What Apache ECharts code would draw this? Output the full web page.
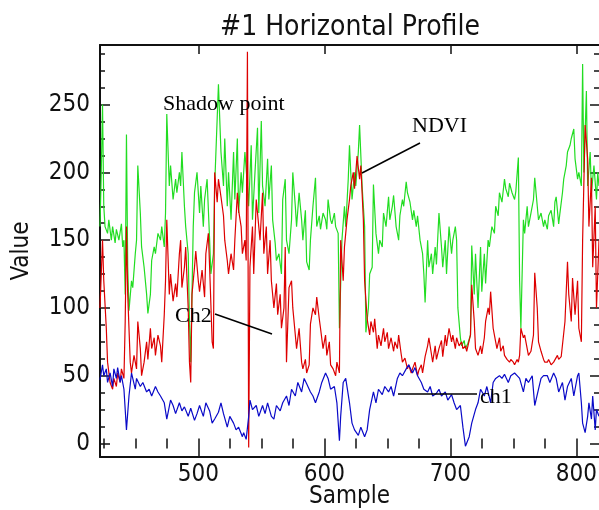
<!DOCTYPE html>
<html lang="en">
<head>
<meta charset="UTF-8">
<title>#1 Horizontal Profile</title>
<script src="https://cdn.jsdelivr.net/npm/echarts@6/dist/echarts.min.js"></script>
<style>
    html, body { margin: 0; padding: 0; background: #fff; }
    #main { width: 599px; height: 510px; }
</style>
</head>
<body>
<div id="main"></div>
<script>
// tick positions / labels
var xMajor = [500, 600, 700, 800];
var xMinor = [425, 450, 475, 500, 525, 550, 575, 600, 625, 650, 675, 700, 725, 750, 775, 800];
var yMajor = [0, 50, 100, 150, 200, 250];
var yMinor = [0, 12.5, 25, 37.5, 50, 62.5, 75, 87.5, 100, 112.5, 125, 137.5, 150, 162.5, 175,
    187.5, 200, 212.5, 225, 237.5, 250, 262.5, 275, 287.5];

// [sample, value]
var ch1 = [[422,47],[424,58],[425,50],[427,55],[428,45],[430,52],[432,42],[433,55],[435,48],[436,56],
    [438,45],[439,50],[441,40],[442,25],[443,10],[445,35],[447,52],[448,48],[450,40],[451,48],[454,42],
    [456,45],[459,38],[461,40],[463,35],[466,42],[468,38],[470,35],[473,30],[475,18],[478,32],[480,28],
    [482,22],[485,30],[487,24],[489,27],[492,20],[494,26],[497,17],[499,22],[501,28],[504,20],[506,30],
    [509,24],[511,15],[513,18],[516,23],[518,30],[520,22],[523,12],[525,20],[528,15],[530,10],[532,12],
    [535,5],[536,8],[538,3],[540,20],[541,32],[543,25],[546,28],[548,20],[551,28],[553,22],[555,30],
    [558,20],[560,18],[562,28],[565,24],[567,30],[570,35],[572,28],[574,40],[577,35],[579,45],[582,38],
    [584,48],[586,44],[589,38],[591,35],[593,30],[596,38],[598,45],[601,52],[603,48],[605,40],[608,42],
    [610,30],[612,2],[613,20],[615,45],[617,48],[620,30],[622,15],[624,10],[627,6],[629,12],[632,5],
    [634,10],[636,25],[639,38],[641,30],[643,40],[646,36],[648,42],[651,38],[653,42],[655,35],[658,48],
    [660,52],[662,50],[665,55],[667,58],[670,52],[672,56],[674,50],[677,45],[679,40],[682,38],[684,42],
    [686,35],[689,37],[691,40],[693,35],[696,38],[698,32],[701,36],[703,30],[705,25],[708,28],[710,12],
    [712,-2],[715,5],[717,15],[720,25],[722,30],[724,40],[727,35],[729,42],[732,30],[734,45],[736,48],
    [739,50],[741,48],[743,51],[746,45],[748,50],[751,52],[753,50],[755,48],[758,38],[760,48],[762,45],
    [765,50],[767,28],[770,40],[772,48],[774,50],[777,50],[779,45],[782,52],[784,48],[786,38],[789,45],
    [791,32],[793,42],[796,48],[798,35],[801,50],[802,52],[804,30],[805,15],[807,8],[809,20],[810,30],
    [812,18],[813,35],[815,10],[816,25],[818,20]];

var ch2 = [[422,100],[424,150],[425,120],[427,85],[428,60],[430,45],[432,40],[433,48],[435,42],[436,52],
    [438,45],[439,55],[441,48],[442,90],[443,160],[444,110],[446,60],[447,52],[449,65],[451,55],[452,90],
    [454,70],[455,50],[457,60],[459,75],[460,62],[462,85],[463,70],[465,78],[466,65],[468,80],[470,72],
    [471,60],[473,95],[474,120],[475,165],[477,110],[478,125],[480,105],[482,118],[483,108],[485,140],
    [486,150],[487,115],[489,130],[490,145],[492,100],[493,60],[494,45],[495,110],[497,130],[498,142],
    [500,120],[501,112],[503,128],[505,108],[506,140],[508,155],[509,130],[511,75],[512,70],[513,200],
    [515,178],[516,195],[518,182],[520,168],[521,150],[523,135],[524,125],[526,140],[528,128],[529,150],
    [531,185],[532,172],[534,160],[535,140],[537,150],[538,135],[539,289],[540,-3],[541,130],[543,160],
    [544,125],[546,180],[547,170],[549,150],[551,185],[552,140],[554,160],[555,125],[557,150],[558,120],
    [560,100],[562,118],[563,95],[565,110],[566,85],[568,100],[569,145],[570,60],[572,115],[574,120],
    [575,100],[577,80],[578,70],[580,85],[582,60],[583,55],[585,62],[586,52],[588,58],[589,88],[591,100],
    [593,95],[594,108],[596,92],[597,85],[599,70],[601,80],[602,65],[604,75],[605,58],[607,55],[609,50],
    [610,60],[612,52],[613,150],[615,120],[616,145],[618,165],[620,180],[621,190],[623,200],[624,188],
    [626,212],[628,195],[629,205],[631,165],[632,120],[634,92],[636,80],[637,90],[639,82],[640,92],
    [642,70],[643,80],[645,72],[647,85],[648,75],[650,82],[651,70],[653,78],[655,68],[656,75],[658,70],
    [659,80],[661,66],[662,60],[664,63],[666,55],[667,58],[669,52],[670,55],[672,60],[674,50],[675,54],
    [677,58],[678,52],[680,64],[682,72],[683,78],[685,66],[686,60],[688,72],[689,62],[691,70],[693,76],
    [694,64],[696,80],[697,72],[699,85],[701,75],[702,80],[704,70],[705,78],[707,72],[709,75],[710,70],
    [712,72],[713,68],[715,76],[716,80],[717,117],[719,90],[720,70],[722,65],[724,72],[725,66],[727,78],
    [728,90],[730,100],[731,95],[732,112],[734,85],[736,75],[737,70],[739,78],[740,68],[742,72],[743,65],
    [745,62],[747,60],[748,62],[750,60],[751,58],[753,62],[754,60],[755,65],[756,85],[758,78],[759,80],
    [761,70],[762,65],[764,68],[766,80],[767,126],[769,100],[770,75],[772,68],[774,62],[775,60],[777,60],
    [778,62],[780,58],[782,60],[783,60],[785,65],[786,62],[788,64],[789,63],[791,90],[793,134],[794,110],
    [796,90],[797,122],[799,95],[801,120],[802,85],[804,75],[805,150],[807,235],[809,210],[810,160],
    [812,196],[813,130],[815,175],[816,100],[818,150]];

var ndvi = [[422,160],[423,200],[424,250],[425,175],[426,160],[428,155],[429,165],[431,150],[432,160],
    [434,148],[435,158],[437,150],[439,162],[440,145],[441,150],[442,110],[443,228],[444,130],[445,98],
    [447,120],[448,115],[450,140],[451,150],[452,205],[454,170],[455,145],[457,130],[459,110],[460,96],
    [462,110],[463,135],[465,145],[466,140],[468,155],[470,150],[471,160],[473,145],[474,170],[475,243],
    [477,190],[478,205],[480,180],[482,195],[483,185],[485,200],[486,190],[487,215],[489,175],[490,160],
    [492,140],[493,90],[494,60],[495,110],[496,160],[497,185],[499,200],[501,170],[502,190],[504,160],
    [505,180],[507,195],[509,150],[510,125],[512,140],[513,190],[515,240],[516,265],[518,215],[520,190],
    [521,225],[523,175],[524,200],[526,165],[528,215],[529,180],[531,225],[532,170],[534,200],[535,185],
    [537,215],[539,190],[540,175],[542,220],[543,165],[545,200],[547,233],[548,170],[550,238],[551,190],
    [553,175],[555,210],[556,180],[558,205],[559,165],[561,148],[562,135],[564,140],[566,125],[567,180],
    [569,195],[570,150],[572,140],[574,165],[575,200],[577,175],[578,160],[580,185],[582,165],[583,150],
    [585,172],[586,134],[588,128],[589,150],[591,175],[593,196],[594,160],[596,168],[597,158],[599,170],
    [601,165],[602,158],[603,180],[605,165],[606,162],[608,170],[609,160],[611,155],[612,85],[614,150],
    [616,175],[617,160],[619,195],[620,220],[622,180],[624,200],[625,190],[627,215],[628,235],[630,190],
    [632,160],[633,82],[635,100],[636,125],[638,130],[639,191],[641,155],[643,140],[644,150],[646,145],
    [647,170],[649,160],[651,182],[652,165],[654,175],[655,183],[657,160],[659,150],[660,168],[662,180],
    [663,175],[665,193],[666,185],[668,178],[670,165],[671,172],[673,160],[674,168],[676,150],[678,140],
    [679,125],[680,104],[682,150],[683,130],[685,140],[686,125],[688,145],[689,132],[691,170],[693,145],
    [694,130],[696,150],[697,125],[699,160],[701,140],[702,150],[704,160],[705,150],[706,100],[708,78],
    [709,72],[711,76],[712,70],[714,74],[716,80],[717,146],[719,110],[720,140],[722,100],[724,145],
    [725,112],[727,140],[728,118],[730,150],[731,145],[733,160],[735,155],[736,175],[738,168],[739,185],
    [741,178],[743,195],[744,188],[746,182],[747,192],[749,185],[751,180],[752,186],[754,211],[755,120],
    [756,85],[758,165],[759,155],[761,175],[762,160],[764,170],[766,180],[767,196],[769,175],[770,165],
    [772,170],[774,160],[775,165],[777,158],[778,168],[780,172],[782,160],[783,178],[784,182],[786,162],
    [787,170],[789,185],[790,195],[792,205],[793,215],[795,220],[796,225],[798,232],[799,210],[801,195],
    [802,200],[804,190],[805,280],[806,200],[808,260],[809,190],[811,215],[812,185],[814,205],[816,180],
    [817,200],[818,190]];

var hershey = '"DejaVu Sans Condensed", "DejaVu Sans", sans-serif';
var serif = '"Liberation Serif", "DejaVu Serif", serif';
var ink = '#111';

function tickAxis(pos, ticks, len, extra) {
    var isX = pos === 'bottom' || pos === 'top';
    var ax = {
        type: 'value', position: pos,
        min: isX ? 422 : -10, max: isX ? 818 : 294,
        axisLine: {show: false},
        axisTick: {show: true, inside: true, length: len, customValues: ticks,
            lineStyle: {color: ink, width: 1.5}},
        axisLabel: {show: false},
        splitLine: {show: false}
    };
    if (extra) Object.assign(ax, extra);
    return ax;
}

var chart = echarts.init(document.getElementById('main'));
var option = {
    animation: false,
    backgroundColor: '#fff',
    title: {
        text: '#1 Horizontal Profile',
        left: 350, top: 14, padding: 0, textAlign: 'center',
        textStyle: {fontFamily: hershey, fontSize: 28, fontWeight: 'normal', color: ink}
    },
    grid: {left: 100, right: 0, top: 45, bottom: 53, outerBoundsMode: 'none', containLabel: false},
    xAxis: [
        tickAxis('bottom', xMajor, 9, {
            name: 'Sample', nameLocation: 'middle', nameGap: 28, nameMoveOverlap: false,
            nameTextStyle: {fontFamily: hershey, fontSize: 24, color: ink},
            axisLine: {show: true, onZero: false, lineStyle: {color: ink, width: 2}},
            axisLabel: {show: true, customValues: xMajor, margin: 6,
                fontFamily: hershey, fontSize: 24, color: ink}
        }),
        tickAxis('bottom', xMinor, 5),
        tickAxis('top', xMajor, 9, {
            axisLine: {show: true, onZero: false, lineStyle: {color: ink, width: 2}}
        }),
        tickAxis('top', xMinor, 5)
    ],
    yAxis: [
        tickAxis('left', yMajor, 10, {
            name: 'Value', nameLocation: 'middle', nameGap: 66, nameMoveOverlap: false,
            nameTextStyle: {fontFamily: hershey, fontSize: 24, color: ink},
            axisLine: {show: true, onZero: false, lineStyle: {color: ink, width: 2}},
            axisLabel: {show: true, customValues: yMajor, margin: 10,
                fontFamily: hershey, fontSize: 24, color: ink}
        }),
        tickAxis('left', yMinor, 5),
        tickAxis('right', yMajor, 9),
        tickAxis('right', yMinor, 5)
    ],
    series: [
        {name: 'NDVI', type: 'line', data: ndvi, showSymbol: false,
            lineStyle: {color: '#22dd22', width: 1.2}, itemStyle: {color: '#22dd22'}},
        {name: 'Ch2', type: 'line', data: ch2, showSymbol: false,
            lineStyle: {color: '#dd0000', width: 1.2}, itemStyle: {color: '#dd0000'}},
        {name: 'ch1', type: 'line', data: ch1, showSymbol: false,
            lineStyle: {color: '#0a0ac8', width: 1.2}, itemStyle: {color: '#0a0ac8'}}
    ],
    graphic: [
        {type: 'text', x: 163, y: 104, z: 100,
            style: {text: 'Shadow point', font: '22px ' + serif, fill: '#000', verticalAlign: 'middle'}},
        {type: 'text', x: 412, y: 126, z: 100,
            style: {text: 'NDVI', font: '22px ' + serif, fill: '#000', verticalAlign: 'middle'}},
        {type: 'line', z: 100, shape: {x1: 420, y1: 143, x2: 362, y2: 173},
            style: {stroke: '#000', lineWidth: 1.5}},
        {type: 'text', x: 175, y: 316, z: 100,
            style: {text: 'Ch2', font: '22px ' + serif, fill: '#000', verticalAlign: 'middle'}},
        {type: 'line', z: 100, shape: {x1: 215, y1: 314, x2: 272, y2: 334},
            style: {stroke: '#000', lineWidth: 1.5}},
        {type: 'text', x: 480, y: 397, z: 100,
            style: {text: 'ch1', font: '22px ' + serif, fill: '#000', verticalAlign: 'middle'}},
        {type: 'line', z: 100, shape: {x1: 398, y1: 394, x2: 477, y2: 394},
            style: {stroke: '#000', lineWidth: 1.5}}
    ]
};
chart.setOption(option);
</script>
</body>
</html>
